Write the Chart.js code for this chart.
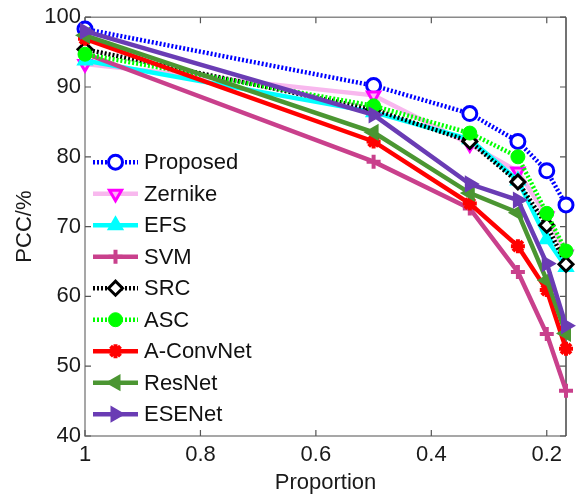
<!DOCTYPE html>
<html><head><meta charset="utf-8">
<script src="https://cdn.jsdelivr.net/npm/chart.js@4/dist/chart.umd.min.js"></script>
<style>html,body{margin:0;padding:0;background:#fff;}#wrap{width:577px;height:497px;}</style>
</head><body><div id="wrap"><canvas id="c" width="577" height="497"></canvas></div>
<script>
// ---- data ----
const proportions = [1, 0.5, 1/3, 0.25, 0.2, 1/6];
const xTickValues = [1, 0.8, 0.6, 0.4, 0.2];
const yTickValues = [40, 50, 60, 70, 80, 90, 100];
const seriesNames = ['Proposed','Zernike','EFS','SVM','SRC','ASC','A-ConvNet','ResNet','ESENet'];
const proposed  = [98.3, 90.2, 86.2, 82.2, 78.0, 73.1];
const zernike   = [93.3, 88.8, 81.8, 77.9, 71.5, 66.0];
const efs       = [93.8, 86.4, 82.5, 76.6, 68.2, 64.2];
const svm       = [94.8, 79.3, 72.6, 63.5, 54.6, 46.5];
const src       = [95.4, 86.8, 82.2, 76.4, 70.2, 64.6];
const asc       = [94.7, 87.3, 83.4, 80.0, 71.9, 66.5];
const aconvnet  = [96.9, 82.2, 73.3, 67.2, 60.9, 52.5];
const resnet    = [97.4, 83.5, 74.8, 72.0, 62.3, 54.7];
const esenet    = [98.0, 86.0, 76.1, 73.8, 64.7, 55.8];

const allValues = [proposed, zernike, efs, svm, src, asc, aconvnet, resnet, esenet];

const styles = [
  {line:'#0000ff', dash:[2,2], ps:'circle', rot:0, r:7, fill:'#ffffff', edge:'#0000ff', bw:3},
  {line:'#f8b8ee', dash:[], ps:'triangle', rot:180, r:7, fill:'#ffb0f4', edge:'#ff00ff', bw:3},
  {line:'#00ffff', dash:[], ps:'triangle', rot:0, r:8, fill:'#00ffff', edge:'#00ffff', bw:2},
  {line:'#c9408c', dash:[], ps:'cross', rot:0, r:7, fill:'#c9408c', edge:'#c9408c', bw:4},
  {line:'#000000', dash:[2,2], ps:'rectRot', rot:0, r:7, fill:'#ffffff', edge:'#000000', bw:3},
  {line:'#00ff00', dash:[2,2], ps:'circle', rot:0, r:7, fill:'#00ff00', edge:'#00ff00', bw:1},
  {line:'#ff0000', dash:[], ps:'star', rot:0, r:7, fill:'#ff0000', edge:'#ff0000', bw:4},
  {line:'#4b9632', dash:[], ps:'triangle', rot:-90, r:8, fill:'#4b9632', edge:'#4b9632', bw:2},
  {line:'#6a3cb4', dash:[], ps:'triangle', rot:90, r:8, fill:'#6a3cb4', edge:'#6a3cb4', bw:2}
];

const FONT = "'Liberation Sans', Arial, sans-serif";
Chart.defaults.font.family = FONT;
Chart.defaults.font.size = 22;
Chart.defaults.color = '#1a1a1a';

const datasets = seriesNames.map((name, i) => {
  const s = styles[i];
  return {
    label: name,
    data: proportions.map((p, k) => ({x: p, y: allValues[i][k]})),
    borderColor: s.line,
    borderWidth: 4.5,
    borderDash: s.dash,
    pointStyle: s.ps,
    pointRotation: s.rot,
    pointRadius: s.r,
    pointBackgroundColor: s.fill,
    pointBorderColor: s.edge,
    pointBorderWidth: s.bw,
    tension: 0,
    fill: false,
    clip: false,
    order: seriesNames.length - i
  };
});

const framePlugin = {
  id: 'frame',
  beforeDatasetsDraw(chart) {
    const {ctx, chartArea: a, scales: {x, y}} = chart;
    ctx.save();
    ctx.lineWidth = 1.5;
    ctx.strokeStyle = '#8a8a8a';
    ctx.beginPath();
    ctx.moveTo(a.left, a.top); ctx.lineTo(a.right, a.top);
    ctx.moveTo(a.left, a.top); ctx.lineTo(a.left, a.bottom); ctx.lineTo(a.right, a.bottom);
    ctx.stroke();
    ctx.strokeStyle = '#444';
    ctx.beginPath(); ctx.moveTo(a.right, a.top); ctx.lineTo(a.right, a.bottom); ctx.stroke();
    const tl = 6;
    ctx.strokeStyle = '#555';
    ctx.lineWidth = 1.2;
    ctx.beginPath();
    x.ticks.forEach(t => {
      const px = x.getPixelForValue(t.value);
      ctx.moveTo(px, a.bottom); ctx.lineTo(px, a.bottom - tl);
      ctx.moveTo(px, a.top); ctx.lineTo(px, a.top + tl);
    });
    y.ticks.forEach(t => {
      const py = y.getPixelForValue(t.value);
      ctx.moveTo(a.left, py); ctx.lineTo(a.left + tl, py);
      ctx.moveTo(a.right, py); ctx.lineTo(a.right - tl, py);
    });
    ctx.stroke();
    ctx.restore();
  }
};

const legendPlugin = {
  id: 'lineLegend',
  afterDraw(chart) {
    const {ctx, chartArea: a} = chart;
    const x0 = a.left + 8, lineLen = 45, gap = 6, step = 31.5;
    const yStart = a.top + 145;
    chart.data.datasets.forEach((ds, i) => {
      const yy = yStart + i * step;
      ctx.save();
      ctx.strokeStyle = ds.borderColor;
      ctx.lineWidth = ds.borderWidth;
      ctx.setLineDash(ds.borderDash || []);
      ctx.beginPath(); ctx.moveTo(x0, yy); ctx.lineTo(x0 + lineLen, yy); ctx.stroke();
      ctx.setLineDash([]);
      ctx.fillStyle = ds.pointBackgroundColor;
      ctx.strokeStyle = ds.pointBorderColor;
      ctx.lineWidth = ds.pointBorderWidth;
      Chart.helpers.drawPoint(ctx, {pointStyle: ds.pointStyle, rotation: ds.pointRotation, radius: ds.pointRadius, borderWidth: ds.pointBorderWidth}, x0 + lineLen / 2, yy);
      ctx.fillStyle = '#111';
      ctx.font = '22px ' + FONT;
      ctx.textBaseline = 'middle';
      ctx.textAlign = 'left';
      ctx.fillText(ds.label, x0 + lineLen + gap, yy + 1);
      ctx.restore();
    });
  }
};

new Chart(document.getElementById('c'), {
  type: 'line',
  data: {datasets},
  options: {
    responsive: false,
    animation: false,
    layout: {padding: {top: 15, right: 8, left: 0, bottom: 0}},
    plugins: {legend: {display: false}, tooltip: {enabled: false}},
    scales: {
      x: {
        type: 'linear', reverse: true, min: 1/6, max: 1,
        afterBuildTicks: s => { s.ticks = xTickValues.map(v => ({value: v})); },
        ticks: {padding: 6, maxRotation: 0, autoSkip: false, callback: v => String(v), color: '#1a1a1a'},
        grid: {display: false, drawTicks: false},
        border: {display: false},
        title: {display: true, text: 'Proportion', padding: {top: 0, bottom: 1}, color: '#1a1a1a'},
        afterFit: s => { s.height = 61; }
      },
      y: {
        type: 'linear', min: 40, max: 100,
        afterBuildTicks: s => { s.ticks = yTickValues.map(v => ({value: v})); },
        ticks: {padding: 4, color: '#1a1a1a'},
        grid: {display: false, drawTicks: false},
        border: {display: false},
        title: {display: true, text: 'PCC/%', padding: {top: 12, bottom: 0}, color: '#1a1a1a'},
        afterFit: s => { s.width = 85; }
      }
    }
  },
  plugins: [framePlugin, legendPlugin]
});
</script>
</body></html>
